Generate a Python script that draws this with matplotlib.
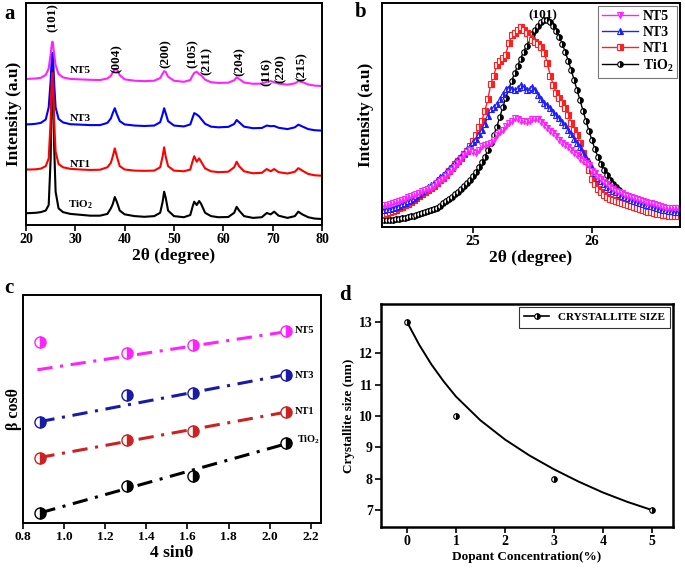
import numpy as np
import matplotlib
matplotlib.use('Agg')
import matplotlib.pyplot as plt
from matplotlib.lines import Line2D

plt.rcParams['font.family'] = ['Liberation Serif', 'DejaVu Serif']
plt.rcParams['font.weight'] = 'bold'
plt.rcParams['axes.labelweight'] = 'bold'

# ---------------- data ----------------
# (a) XRD patterns, 2theta in degrees, stacked intensity (arb. units)
xa = [20, 21, 22, 23, 24, 24.6, 25.0, 25.2, 25.35, 25.5, 25.7, 26.0, 26.6, 27.5,
      29, 31, 33, 35, 36.5, 37.2, 37.6, 38.0, 38.4, 39.0, 40, 42, 44, 46,
      47.2, 47.7, 48.0, 48.3, 48.8, 50, 52, 53.3, 53.8, 54.1, 54.6, 55.1, 55.5,
      56.3, 57.5, 59, 61, 62.2, 62.7, 63.2, 64.2, 66, 67.8, 68.8, 69.6, 70.3,
      71.2, 73, 74.5, 75.2, 76, 77.2, 78.5, 80]
tio2_a = [5.3, 5.4, 5.5, 5.8, 6.5, 9, 30, 60, 70, 60, 36, 15, 7.5, 5.8,
          5.0, 4.6, 4.2, 4.2, 5.0, 7.5, 9.5, 12.6, 10.5, 6.5, 4.8, 4.0, 3.7, 4.0,
          5.5, 10.5, 15.0, 12.5, 6.5, 4.0, 3.5, 4.5, 8.5, 10.5, 9.0, 10.8, 9.5,
          5.5, 4.0, 3.5, 3.6, 5.5, 8.2, 6.5, 4.0, 3.2, 3.5, 5.4, 4.8, 6.0,
          4.2, 3.2, 4.0, 6.0, 4.8, 3.5, 2.9, 2.7]
nt1_a = [25.0, 25.0, 25.1, 25.4, 26.5, 30, 47, 64, 68.5, 63, 47, 33, 27.5, 26,
         25.3, 25.0, 24.8, 24.9, 26, 28, 31, 34.5, 31, 26.5, 25, 24.5, 24.4, 24.5,
         26, 31, 35, 31, 26.5, 24.5, 24.2, 25, 29, 31, 28.5, 30, 28.5,
         25.5, 24.2, 23.8, 24, 26, 28.5, 26.5, 24.2, 23.3, 23.5, 25.2, 24.2, 25.2,
         23.8, 23.2, 24, 25.6, 24.5, 23, 22.4, 22.2]
nt3_a = [45.3, 45.4, 45.6, 46.0, 47.5, 53, 65, 74, 77.5, 74.5, 64, 53, 47.8, 46.2,
         45.4, 45.2, 45.0, 45.0, 46, 48, 50.5, 52.6, 50, 46.8, 45.3, 44.8, 44.6, 44.8,
         46.3, 50, 52.6, 50.5, 46.8, 44.8, 44.4, 45.3, 48.5, 50.4, 49.8, 48.9, 47.8,
         45.6, 44.3, 44.0, 44.2, 45.5, 47.3, 46.3, 44.3, 43.6, 43.7, 44.8, 44.5, 44.6,
         43.8, 43.2, 44, 45.2, 44.4, 43.2, 42.7, 42.5]
nt5_a = [65.8, 65.9, 66.0, 66.3, 67.6, 70.5, 77, 81, 82.6, 81.2, 77, 72, 68, 66.5,
         65.8, 65.6, 65.4, 65.3, 66, 67.2, 68.8, 70, 70.4, 67.5, 65.6, 65.0, 64.8, 65.0,
         66.2, 68.2, 69.3, 69.0, 66.8, 65.0, 64.5, 65.3, 67.5, 68.5, 69.0, 68.0, 67.4,
         65.5, 64.3, 64.0, 64.1, 65.2, 66.5, 65.8, 64.2, 63.6, 63.7, 64.5, 64.8, 64.3,
         63.7, 63.2, 63.8, 64.8, 64.4, 63.3, 62.8, 62.6]
hkl_labels = ['(101)', '(004)', '(200)', '(105)', '(211)', '(204)', '(116)', '(220)', '(215)']
hkl_x = [25.5, 38.3, 48.3, 53.8, 56.6, 63.3, 68.8, 71.7, 75.8]
hkl_y = [93.5, 75, 77.4, 77.4, 74, 73.6, 69, 70.6, 71.3]

# (b) zoom on (101) peak, 0.025 deg step
xb = np.round(np.arange(24.25, 26.7501, 0.025), 3)
tio2_b = [3.0, 3.1, 3.2, 3.3, 3.5, 3.7, 3.9, 4.2, 4.5, 4.8,
          5.1, 5.4, 5.8, 6.2, 6.6, 7.0, 7.5, 8.0, 8.6, 9.5,
          10.5, 11.4, 12.4, 13.5, 14.6, 15.8, 17.0, 18.3, 19.7, 21.2,
          22.8, 24.6, 26.6, 28.9, 31.4, 34.3, 37.5, 41.0, 44.8, 49.0,
          53.4, 57.6, 61.5, 65.2, 68.7, 72.0, 75.2, 78.2, 81.0, 83.6,
          86.0, 88.1, 89.9, 91.3, 92.2, 92.3, 91.5, 89.9, 87.7, 85.0,
          81.8, 78.2, 74.3, 70.1, 65.7, 61.1, 56.5, 51.9, 47.3, 42.9,
          38.7, 34.8, 31.3, 28.2, 25.5, 23.1, 21.0, 19.2, 17.7, 16.4,
          15.3, 14.4, 13.6, 12.9, 12.3, 11.7, 11.2, 10.7, 10.2, 9.8,
          9.4, 9.0, 8.7, 8.4, 8.1, 7.8, 7.6, 7.4, 7.2, 7.0, 6.9]
nt1_b = [6.0, 6.4, 6.8, 7.2, 7.8, 8.3, 9.0, 9.7, 10.4, 11.2,
         12.2, 13.0, 14.0, 14.9, 15.8, 16.7, 17.6, 18.5, 19.6, 20.8,
         22.0, 23.3, 25.0, 26.5, 28.0, 29.4, 31.0, 32.6, 34.0, 36.0,
         38.5, 41.0, 44.5, 47.5, 52.0, 57.0, 64.0, 67.5, 72.5, 74.0,
         75.5, 77.0, 82.0, 85.5, 86.5, 88.0, 89.5, 88.0, 86.5, 84.5,
         83.5, 82.5, 81.5, 80.5, 77.5, 73.0, 67.5, 63.5, 60.0, 57.5,
         55.5, 53.0, 50.0, 46.5, 43.5, 41.0, 37.5, 33.0, 29.5, 25.5,
         21.5, 19.0, 17.0, 15.5, 14.3, 13.3, 12.6, 12.0, 11.5, 11.0,
         10.6, 10.1, 9.6, 9.2, 8.8, 8.4, 8.0, 7.6, 7.2, 6.8,
         6.5, 6.2, 5.9, 5.6, 5.4, 5.2, 5.0, 5.0, 4.9, 4.9, 4.8]
nt3_b = [7.6, 7.9, 8.2, 8.6, 9.0, 9.5, 10.1, 10.7, 11.4, 12.2,
         13.0, 13.9, 14.8, 15.9, 16.9, 17.8, 18.7, 19.8, 20.9, 22.2,
         23.4, 24.7, 26.0, 27.3, 28.8, 30.2, 31.6, 33.0, 34.6, 36.0,
         37.8, 39.5, 41.3, 43.5, 46.0, 49.5, 52.5, 53.5, 55.0, 57.0,
         59.5, 61.5, 62.0, 61.5, 61.0, 62.0, 63.5, 62.5, 61.0, 61.5,
         62.5, 61.0, 59.0, 57.0, 55.5, 54.5, 53.0, 51.5, 50.0, 48.5,
         47.0, 45.5, 43.5, 41.5, 39.5, 37.5, 35.5, 33.0, 31.0, 29.0,
         26.5, 24.0, 22.0, 20.5, 19.0, 18.0, 17.0, 16.2, 15.5, 14.8,
         14.0, 13.4, 12.8, 12.2, 11.7, 11.2, 10.8, 10.4, 10.0, 9.6,
         9.2, 8.8, 8.4, 8.0, 7.7, 7.4, 7.2, 7.0, 6.9, 6.8, 6.8]
nt5_b = [9.8, 10.0, 10.3, 10.7, 11.1, 11.5, 12.0, 12.6, 13.2, 13.7,
         14.3, 14.8, 15.4, 16.0, 16.5, 17.0, 17.6, 18.5, 19.5, 20.5,
         21.6, 22.8, 24.0, 25.5, 27.0, 28.5, 30.5, 32.0, 33.5, 34.5,
         33.5, 33.0, 34.5, 36.0, 36.5, 37.0, 37.5, 39.0, 41.0, 42.5,
         43.5, 45.0, 46.5, 47.5, 48.5, 48.0, 47.5, 47.5, 47.0, 47.5,
         48.0, 48.0, 48.0, 47.0, 45.5, 44.0, 43.0, 42.0, 40.5, 39.0,
         37.5, 36.5, 35.5, 34.5, 33.0, 32.0, 30.5, 29.5, 28.5, 27.5,
         25.0, 24.0, 22.5, 21.5, 20.0, 19.0, 18.0, 17.0, 16.2, 15.5,
         15.0, 14.5, 14.0, 13.5, 13.0, 12.6, 12.2, 11.8, 11.3, 10.9,
         10.5, 10.1, 9.7, 9.3, 8.9, 8.7, 8.5, 8.4, 8.3, 8.3, 8.3]

# (c) Williamson-Hall plot
xc = [0.882, 1.304, 1.629, 2.079]
wh_nt5 = [79.3, 74.5, 78.1, 84.4]
wh_nt3 = [44.5, 56.2, 56.9, 64.7]
wh_nt1 = [28.5, 36.2, 40.4, 48.9]
wh_tio2 = [4.4, 16.1, 20.4, 35.0]
# linear fits: slope, intercept, x range
fit_slope = [13.8, 17.2, 16.6, 25.3]
fit_icpt = [55.2, 29.3, 14.1, -17.9]
fit_xmin = [0.87, 0.88, 0.88, 0.885]
fit_xmax = [2.08, 2.08, 2.08, 2.125]

# (d) crystallite size
conc = [0, 1, 3, 5]
size_nm = [13, 10, 8, 7]
conc_fit = [0, 0.25, 0.5, 0.75, 1.0, 1.5, 2.0, 2.5, 3.0, 3.5, 4.0, 4.5, 5.0]
size_fit = [13.0, 12.27, 11.64, 11.10, 10.62, 9.86, 9.25, 8.74, 8.30, 7.91, 7.56, 7.26, 7.0]

c_mag = '#ff22ff'
c_blue = '#1f1fff'
c_red = '#ff1f1f'

fig = plt.figure(figsize=(6.85, 5.69), dpi=100)
W, H = 685, 569


def px_axes(l, t, r, b):
    return fig.add_axes([l / W, 1 - b / H, (r - l) / W, (b - t) / H])


def style(ax, lw=1.4, fs=9):
    for s in ax.spines.values():
        s.set_linewidth(lw)
    ax.tick_params(direction='out', length=4, width=1.2, labelsize=fs, pad=2)
    for t in ax.get_xticklabels() + ax.get_yticklabels():
        t.set_fontweight('bold')


# ---------- (a) ----------
ax = px_axes(26, 3, 322, 225)
ax.plot(xa, tio2_a, color='black', lw=1.5)
ax.plot(xa, nt3_a, color='blue', lw=1.5)
ax.plot(xa, nt1_a, color='red', lw=1.5)
ax.plot(xa, nt5_a, color=c_mag, lw=1.5)
ax.set_xlim(20, 80)
ax.set_ylim(0, 100)
ax.set_yticks([])
ax.set_xticks(range(20, 81, 10))
style(ax, fs=10)
ax.set_xlabel('2θ (degree)', fontsize=12.5, labelpad=1)
ax.set_ylabel('Intensity (a.u)', fontsize=12.5, labelpad=3)
for lab, y in zip(['NT5', 'NT3', 'NT1', r'TiO$_\mathregular{2}$'], [69.5, 48, 27.4, 9.4]):
    ax.text(31, y, lab, fontsize=8, fontweight='bold', ha='center', va='center')
for lab, x, y in zip(hkl_labels, hkl_x, hkl_y):
    ax.text(x, y, lab, fontsize=9.5, rotation=90, ha='center', va='center')

# ---------- (b) ----------
ax = px_axes(382, 3, 680, 227)
mk = dict(ms=4, fillstyle='right', markerfacecoloralt='white', mew=0.8, lw=1.0)
l4, = ax.plot(xb, tio2_b, color='black', marker='o', label=r'TiO$_\mathregular{2}$', **mk)
l3, = ax.plot(xb, nt1_b, color=c_red, marker='s', label='NT1', **mk)
l2, = ax.plot(xb, nt3_b, color=c_blue, marker='^', label='NT3', **mk)
l1, = ax.plot(xb, nt5_b, color=c_mag, marker='v', label='NT5', **mk)
ax.set_xlim(24.235, 26.74)
ax.set_ylim(0, 100)
ax.set_yticks([])
ax.set_xticks([25, 26])
style(ax, fs=10.5)
ax.set_xlabel('2θ (degree)', fontsize=12.5, labelpad=1)
ax.set_ylabel('Intensity (a.u)', fontsize=12.5, labelpad=6)
ax.text(25.59, 94.6, '(101)', fontsize=9.5, ha='center', va='center')
leg = ax.legend(handles=[l1, l2, l3, l4], loc='upper right', fontsize=10,
                handlelength=2.6, borderaxespad=0.2, labelspacing=0.2,
                fancybox=False, borderpad=0.3, handletextpad=0.3)
leg.get_frame().set_edgecolor('#555555')
leg.get_frame().set_linewidth(0.8)
for t in leg.get_texts():
    t.set_fontweight('bold')

# ---------- (c) ----------
ax = px_axes(23, 295, 321, 523)
cols_c = [c_mag, '#1a1aa8', '#cc2222', 'black']
sets_c = [wh_nt5, wh_nt3, wh_nt1, wh_tio2]
for col, ys, m, b0, x0, x1 in zip(cols_c, sets_c, fit_slope, fit_icpt, fit_xmin, fit_xmax):
    xx = np.array([x0, x1])
    ax.plot(xx, m * xx + b0, color=col, lw=2.2, dashes=(5, 2.5, 1, 2.5))
    ax.plot(xc, ys, ls='none', marker='o', ms=8, color=col, fillstyle='right',
            markerfacecoloralt='white', mew=1.0)
ax.set_xlim(0.8, 2.25)
ax.set_ylim(0, 100)
ax.set_yticks([])
ax.set_xticks(np.arange(0.8, 2.21, 0.2))
ax.set_xticklabels(['%.1f' % v for v in np.arange(0.8, 2.21, 0.2)])
style(ax, fs=9.5)
ax.set_xlabel('4 sinθ', fontsize=12.5, labelpad=1)
ax.set_ylabel('β cosθ', fontsize=11.5, labelpad=1)
for lab, y in zip(['NT5', 'NT3', 'NT1'], [84.4, 64.7, 48.9]):
    ax.text(2.12, y, lab, fontsize=7.5, ha='left', va='center')
ax.text(2.135, 36.5, r'TiO$_\mathregular{2}$', fontsize=7.5, ha='left', va='center')

# ---------- (d) ----------
ax = px_axes(381, 304, 673, 527)
ax.plot(conc_fit, size_fit, color='black', lw=1.4)
ax.plot(conc, size_nm, ls='none', marker='o', ms=4, color='black', fillstyle='right',
        markerfacecoloralt='white', mew=0.8)
ax.set_xlim(-0.53, 5.43)
ax.set_ylim(6.46, 13.57)
ax.set_xticks(range(0, 6))
ax.set_yticks(range(7, 14))
style(ax, lw=1.8, fs=10)
ax.set_xlabel('Dopant Concentration(%)', fontsize=9.5, labelpad=2)
ax.set_ylabel('Crystallite size (nm)', fontsize=9.5, labelpad=3)
h = Line2D([], [], color='black', lw=1.2, marker='o', ms=4, fillstyle='right',
           markerfacecoloralt='white', mew=0.8)
leg = ax.legend([h], ['CRYSTALLITE SIZE'], loc='upper right', fontsize=8,
                fancybox=False, borderaxespad=0.25, handlelength=2.2, borderpad=0.5)
leg.get_frame().set_edgecolor('black')
leg.get_frame().set_linewidth(0.8)
for t in leg.get_texts():
    t.set_fontweight('bold')

# panel letters
for lab, x, y in [('a', 4, 14), ('b', 355, 12), ('c', 4, 288), ('d', 339, 295)]:
    fig.text(x / W, 1 - y / H, lab, fontsize=15, fontweight='bold', ha='left', va='center')

fig.savefig('out.png', dpi=100)
